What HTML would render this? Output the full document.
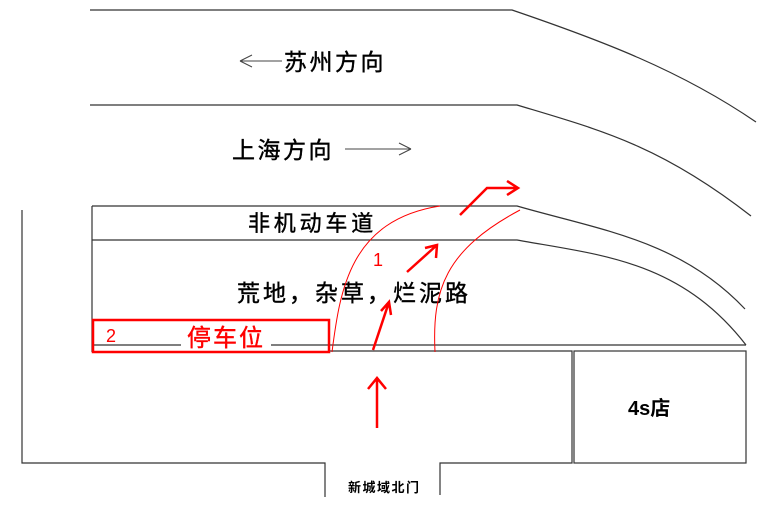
<!DOCTYPE html>
<html><head><meta charset="utf-8"><style>
html,body{margin:0;padding:0;background:#fff;}
svg{display:block;}
text{font-family:"Liberation Sans","Noto Sans CJK SC",sans-serif;}
</style></head><body>
<svg width="780" height="523" viewBox="0 0 780 523" xmlns="http://www.w3.org/2000/svg">
<g fill="none" stroke="#333" stroke-width="1.2">
<path d="M90 10 H512 C600 40 680 70 756 122"/>
<path d="M90 105 H517 C600 130 660 145 751 216"/>
<path d="M92 206 H517 C600 230 680 240 745 309"/>
<path d="M92 240 H517 C600 255 680 260 746 345"/>
<path d="M92 206 V352"/>
<path d="M92 345 H746"/>
<path d="M330 351 H572 V463 H440 V495"/>
<rect x="574" y="351" width="172" height="112"/>
<path d="M22 210 V463 H325 V497"/>
</g>
<g stroke="#444" stroke-width="1" fill="none">
<path d="M240 61 H282 M240 61 L252 55 M240 61 L252 67"/>
<path d="M345 149 H411 M411 149 L399 143 M411 149 L399 155"/>
</g>
<g fill="#000" stroke="#000" stroke-width="0.4">
<text x="284" y="70" font-size="23" letter-spacing="2.5">苏州方向</text>
<text x="232" y="158" font-size="23" letter-spacing="2.5">上海方向</text>
<text x="248" y="231" font-size="22" letter-spacing="3.8">非机动车道</text>
<text x="237" y="301" font-size="23" letter-spacing="3">荒地，杂草，烂泥路</text>
</g>
<text x="628" y="415" font-size="20" font-weight="bold" fill="#000">4s店</text>
<text x="348" y="492" font-size="13" font-weight="bold" letter-spacing="1.5" fill="#000">新城域北门</text>
<rect x="93" y="320" width="236" height="32" fill="none" stroke="#f00" stroke-width="2.5"/>
<rect x="181" y="322" width="90" height="28" fill="#fff"/>
<text x="187" y="346" font-size="24" letter-spacing="2" fill="#f00" stroke="#f00" stroke-width="0.4">停车位</text>
<text x="106" y="342" font-size="18" fill="#f00">2</text>
<text x="373" y="266" font-size="18" fill="#f00">1</text>
<g fill="none" stroke="#f00" stroke-width="1">
<path d="M332 352 C340 290 350 220 440 206"/>
<path d="M435 352 C432 290 445 250 520 210"/>
</g>
<g fill="none" stroke="#f00" stroke-width="2.5">
<path d="M373 350 L389 302 M381 311 L389 302 L391 315"/>
<path d="M407 272 L437 245 M425 248 L437 245 L436 258"/>
<path d="M460 215 L487 188 H517 M507 181 L518 188 L507 195"/>
<path d="M377 428 V378 M368 389 L377 378 L386 389"/>
</g>
</svg>
</body></html>
